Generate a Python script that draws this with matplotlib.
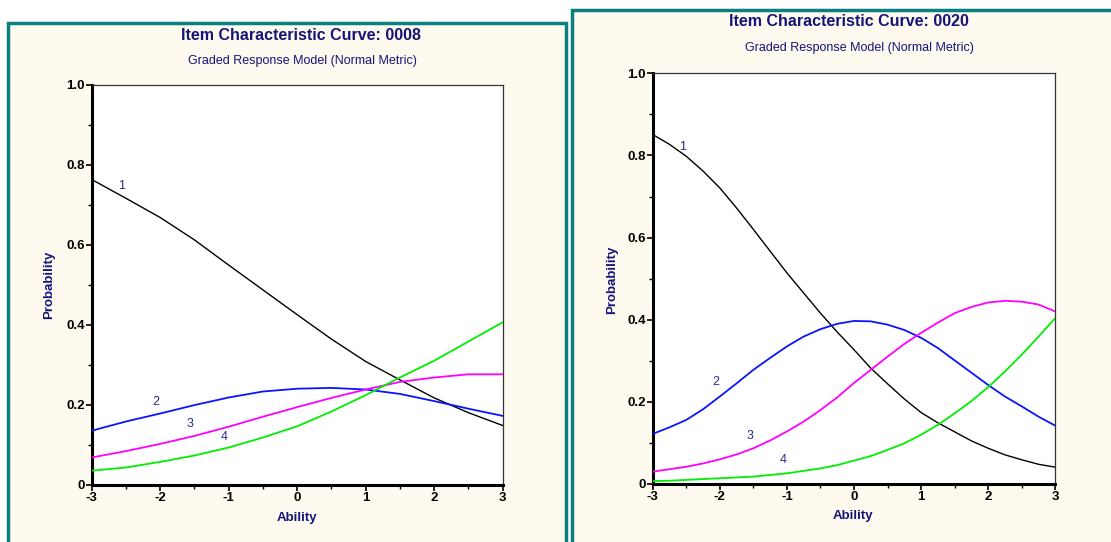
import numpy as np
import matplotlib
matplotlib.use("Agg")
import matplotlib.pyplot as plt
from matplotlib.patches import Rectangle
from matplotlib.ticker import MultipleLocator, FixedFormatter, FixedLocator

plt.rcParams['font.family'] = ['Liberation Sans', 'DejaVu Sans']
plt.rcParams['axes.unicode_minus'] = False

# ---- data ----
# item 0008, ability grid in steps of 0.5
theta_08 = [-3, -2.5, -2, -1.5, -1, -0.5, 0, 0.5, 1, 1.5, 2, 2.5, 3]
cat1_08 = [0.763, 0.716, 0.668, 0.612, 0.549, 0.487, 0.425, 0.364, 0.308, 0.262, 0.217, 0.180, 0.148]
cat2_08 = [0.135, 0.158, 0.178, 0.199, 0.218, 0.233, 0.240, 0.242, 0.238, 0.227, 0.209, 0.190, 0.172]
cat3_08 = [0.068, 0.084, 0.102, 0.122, 0.145, 0.170, 0.194, 0.217, 0.238, 0.257, 0.268, 0.276, 0.276]
cat4_08 = [0.035, 0.043, 0.057, 0.073, 0.093, 0.118, 0.146, 0.183, 0.224, 0.268, 0.310, 0.358, 0.406]

# item 0020, ability grid in steps of 0.25
theta_20 = [-3, -2.75, -2.5, -2.25, -2, -1.75, -1.5, -1.25, -1, -0.75, -0.5, -0.25, 0,
            0.25, 0.5, 0.75, 1, 1.25, 1.5, 1.75, 2, 2.25, 2.5, 2.75, 3]
cat1_20 = [0.851, 0.827, 0.798, 0.762, 0.721, 0.672, 0.620, 0.567, 0.514, 0.465, 0.416, 0.370, 0.327,
           0.282, 0.244, 0.207, 0.174, 0.149, 0.127, 0.105, 0.087, 0.071, 0.059, 0.048, 0.041]
cat2_20 = [0.122, 0.138, 0.156, 0.182, 0.213, 0.245, 0.278, 0.307, 0.335, 0.359, 0.377, 0.390, 0.397,
           0.396, 0.388, 0.375, 0.356, 0.331, 0.301, 0.271, 0.241, 0.213, 0.189, 0.164, 0.142]
cat3_20 = [0.030, 0.036, 0.042, 0.050, 0.060, 0.072, 0.087, 0.106, 0.128, 0.152, 0.180, 0.211, 0.246,
           0.278, 0.310, 0.341, 0.368, 0.393, 0.416, 0.431, 0.442, 0.446, 0.444, 0.437, 0.420]
cat4_20 = [0.007, 0.008, 0.010, 0.012, 0.014, 0.016, 0.018, 0.022, 0.026, 0.032, 0.038, 0.046, 0.057,
           0.068, 0.083, 0.099, 0.120, 0.144, 0.172, 0.202, 0.236, 0.274, 0.315, 0.359, 0.404]

# label positions for the category numbers (theta, prob)
lab_08 = [(-2.56, 0.747), (-2.06, 0.207), (-1.56, 0.152), (-1.07, 0.119)]
lab_20 = [(-2.55, 0.82), (-2.06, 0.249), (-1.55, 0.117), (-1.06, 0.059)]

y_ticks = [0, 0.2, 0.4, 0.6, 0.8, 1.0]
y_tick_labels = ['0', '0.2', '0.4', '0.6', '0.8', '1.0']

line_colors = ['#000000', '#0a14ff', '#ff00ff', '#00ee00']
navy = '#14147a'
label_navy = '#2a2a98'
panel_bg = '#fefaef'
teal = '#0a7f7f'

W, H = 1111, 542
fig = plt.figure(figsize=(W / 100, H / 100), dpi=100)
fig.patch.set_facecolor('white')


def px_box(x0, y0, x1, y1):
    # pixel box (top-left origin) to figure fraction rect
    return [x0 / W, 1 - y1 / H, (x1 - x0) / W, (y1 - y0) / H]


# panel frames
for (x0, y0, x1) in [(8, 23, 566), (572, 10, 1115)]:
    fig.patches.append(Rectangle((x0 / W, -0.05), (x1 - x0) / W, 1.05 - y0 / H,
                                 transform=fig.transFigure, facecolor=panel_bg,
                                 edgecolor=teal, linewidth=2.5, zorder=-5))


def draw_panel(rect, item, theta, cats, labels, title_xy, sub_xy, ylab_xy, xlab_xy):
    ax = fig.add_axes(rect)
    ax.set_zorder(2)
    ax.set_facecolor('white')
    for vals, col in zip(cats, line_colors):
        lw = 1.0 if col == '#000000' else 1.3
        ax.plot(theta, vals, color=col, linewidth=lw, zorder=3)
    for i, (tx, ty) in enumerate(labels):
        ax.text(tx, ty, str(i + 1), color=label_navy, fontsize=9, ha='center', va='center')
    ax.set_xlim(-3, 3)
    ax.set_ylim(0, 1.0)
    ax.xaxis.set_major_locator(MultipleLocator(1))
    ax.xaxis.set_minor_locator(MultipleLocator(0.5))
    ax.yaxis.set_major_locator(FixedLocator(y_ticks))
    ax.yaxis.set_major_formatter(FixedFormatter(y_tick_labels))
    ax.yaxis.set_minor_locator(MultipleLocator(0.1))
    ax.tick_params(which='major', direction='out', length=4, width=1.2, labelsize=9.5, pad=1)
    ax.tick_params(which='minor', direction='out', length=3, width=1.0)
    for lab in ax.get_xticklabels() + ax.get_yticklabels():
        lab.set_fontweight('bold')
    ax.spines['left'].set_linewidth(2.2)
    ax.spines['bottom'].set_linewidth(2.2)
    ax.spines['top'].set_linewidth(0.9)
    ax.spines['right'].set_linewidth(0.9)
    ax.spines['top'].set_color('#333333')
    ax.spines['right'].set_color('#333333')

    fig.text(title_xy[0] / W, 1 - title_xy[1] / H, 'Item Characteristic Curve: ' + item,
             color=navy, fontsize=11.5, fontweight='bold', ha='center', va='center')
    fig.text(sub_xy[0] / W, 1 - sub_xy[1] / H, 'Graded Response Model (Normal Metric)',
             color=navy, fontsize=9, ha='center', va='center')
    fig.text(ylab_xy[0] / W, 1 - ylab_xy[1] / H, 'Probability', color=navy, fontsize=9.5,
             fontweight='bold', rotation=90, ha='center', va='center')
    fig.text(xlab_xy[0] / W, 1 - xlab_xy[1] / H, 'Ability', color=navy, fontsize=9.5,
             fontweight='bold', ha='center', va='center')
    return ax


draw_panel(px_box(91.7, 84.7, 502.7, 484.7), '0008', theta_08,
           [cat1_08, cat2_08, cat3_08, cat4_08], lab_08,
           (301, 35), (302, 61), (49, 285), (297, 518))
draw_panel(px_box(652.7, 73.3, 1055.3, 484), '0020', theta_20,
           [cat1_20, cat2_20, cat3_20, cat4_20], lab_20,
           (849, 22), (859, 48), (612, 280), (853, 516))

fig.savefig('out.png', dpi=100)
